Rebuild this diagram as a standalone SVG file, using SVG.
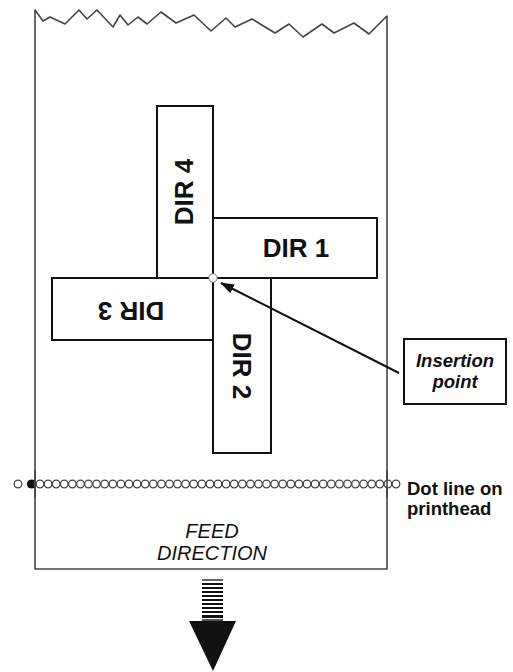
<svg xmlns="http://www.w3.org/2000/svg" width="513" height="672" viewBox="0 0 513 672">
<style>
.paper{fill:none;stroke:#444;stroke-width:1.6;stroke-linejoin:round}
.box{fill:#fff;stroke:#111;stroke-width:2}
.dir{font-family:"Liberation Sans",Arial,sans-serif;font-weight:bold;font-size:26px;fill:#111;text-anchor:middle}
.lbl{font-family:"Liberation Sans",Arial,sans-serif;font-weight:bold;font-size:18.5px;fill:#111}
.feed{font-family:"Liberation Sans",Arial,sans-serif;font-style:italic;font-size:20px;fill:#111;text-anchor:middle}
.dot{fill:#fff;stroke:#444;stroke-width:1.3}
</style>
<defs>
<marker id="ah" markerWidth="14" markerHeight="10" refX="13" refY="5" orient="auto" markerUnits="userSpaceOnUse">
<path d="M0,0 L14,5 L0,10 Z" fill="#111"/>
</marker>
</defs>
<g id="paper">
<path class="paper" d="M35,569 L35,10 L43,21 L50,17 L65,24 L79,10 L87,19 L97,10 L113,27 L120,15 L128,25 L138,17 L147,24 L161,12 L176,23 L194,15 L211,31 L226,18 L235,27 L252,19 L275,33 L289,24 L303,37 L322,24 L334,33 L354,23 L369,34 L387,16 L387,569 Z"/>
</g>
<g id="dir4"><rect class="box" x="157" y="106" width="56" height="172"/><text class="dir" transform="translate(193,192) rotate(-90)">DIR 4</text></g>
<g id="dir1"><rect class="box" x="213" y="218" width="164" height="60"/><text class="dir" x="296" y="257">DIR 1</text></g>
<g id="dir3"><rect class="box" x="52" y="278" width="161" height="62"/><text class="dir" transform="translate(131,302) rotate(180)">DIR 3</text></g>
<g id="dir2"><rect class="box" x="213" y="278" width="58" height="175"/><text class="dir" transform="translate(233,366) rotate(90)">DIR 2</text></g>
<g id="insertion-dot"><circle cx="213" cy="278" r="4.2" fill="#fff" stroke="#777" stroke-width="1"/></g>
<g id="insertion-label"><rect class="box" x="404" y="339" width="102" height="65"/>
<text class="lbl" font-style="italic" text-anchor="middle" x="455" y="367">Insertion</text>
<text class="lbl" font-style="italic" text-anchor="middle" x="455" y="388">point</text></g>
<g id="connectors"><line x1="399" y1="373" x2="221" y2="283" stroke="#111" stroke-width="2" marker-end="url(#ah)"/></g>
<g id="dotline">
<circle class="dot" cx="18" cy="484" r="3.8"/>
<circle cx="31.5" cy="484" r="4.6" fill="#111"/>
<circle class="dot" cx="40" cy="484" r="3.8"/><circle class="dot" cx="48.1" cy="484" r="3.8"/><circle class="dot" cx="56.2" cy="484" r="3.8"/><circle class="dot" cx="64.3" cy="484" r="3.8"/><circle class="dot" cx="72.4" cy="484" r="3.8"/><circle class="dot" cx="80.5" cy="484" r="3.8"/><circle class="dot" cx="88.5" cy="484" r="3.8"/><circle class="dot" cx="96.6" cy="484" r="3.8"/><circle class="dot" cx="104.7" cy="484" r="3.8"/><circle class="dot" cx="112.8" cy="484" r="3.8"/><circle class="dot" cx="120.9" cy="484" r="3.8"/><circle class="dot" cx="129" cy="484" r="3.8"/><circle class="dot" cx="137.1" cy="484" r="3.8"/><circle class="dot" cx="145.2" cy="484" r="3.8"/><circle class="dot" cx="153.3" cy="484" r="3.8"/><circle class="dot" cx="161.4" cy="484" r="3.8"/><circle class="dot" cx="169.5" cy="484" r="3.8"/><circle class="dot" cx="177.5" cy="484" r="3.8"/><circle class="dot" cx="185.6" cy="484" r="3.8"/><circle class="dot" cx="193.7" cy="484" r="3.8"/><circle class="dot" cx="201.8" cy="484" r="3.8"/><circle class="dot" cx="209.9" cy="484" r="3.8"/><circle class="dot" cx="218" cy="484" r="3.8"/><circle class="dot" cx="226.1" cy="484" r="3.8"/><circle class="dot" cx="234.2" cy="484" r="3.8"/><circle class="dot" cx="242.3" cy="484" r="3.8"/><circle class="dot" cx="250.4" cy="484" r="3.8"/><circle class="dot" cx="258.5" cy="484" r="3.8"/><circle class="dot" cx="266.5" cy="484" r="3.8"/><circle class="dot" cx="274.6" cy="484" r="3.8"/><circle class="dot" cx="282.7" cy="484" r="3.8"/><circle class="dot" cx="290.8" cy="484" r="3.8"/><circle class="dot" cx="298.9" cy="484" r="3.8"/><circle class="dot" cx="307" cy="484" r="3.8"/><circle class="dot" cx="315.1" cy="484" r="3.8"/><circle class="dot" cx="323.2" cy="484" r="3.8"/><circle class="dot" cx="331.3" cy="484" r="3.8"/><circle class="dot" cx="339.4" cy="484" r="3.8"/><circle class="dot" cx="347.5" cy="484" r="3.8"/><circle class="dot" cx="355.5" cy="484" r="3.8"/><circle class="dot" cx="363.6" cy="484" r="3.8"/><circle class="dot" cx="371.7" cy="484" r="3.8"/><circle class="dot" cx="379.8" cy="484" r="3.8"/><circle class="dot" cx="387.9" cy="484" r="3.8"/><circle class="dot" cx="396" cy="484" r="3.8"/>
<line x1="35" y1="470" x2="35" y2="498" stroke="#444" stroke-width="1.6"/>
<line x1="387" y1="470" x2="387" y2="498" stroke="#444" stroke-width="1.6"/>
<text class="lbl" x="407" y="495">Dot line on</text>
<text class="lbl" x="407" y="515">printhead</text>
</g>
<g id="feed">
<text class="feed" x="212" y="538">FEED</text>
<text class="feed" x="212" y="560">DIRECTION</text>
<g fill="#111">
<rect x="202" y="579" width="21" height="2" fill="#666"/>
<rect x="202" y="583" width="21" height="2"/>
<rect x="202" y="587" width="21" height="2"/>
<rect x="202" y="591" width="21" height="2"/>
<rect x="202" y="595" width="21" height="2"/>
<rect x="202" y="599" width="21" height="2"/>
<rect x="202" y="603" width="21" height="2"/>
<rect x="202" y="607" width="21" height="2"/>
<rect x="202" y="611" width="21" height="2"/>
<rect x="202" y="615" width="21" height="3"/>
<rect x="202" y="619" width="21" height="3" fill="#555"/>
<path d="M189,621 L236,621 L213,671 Z"/>
</g>
</g>
</svg>
